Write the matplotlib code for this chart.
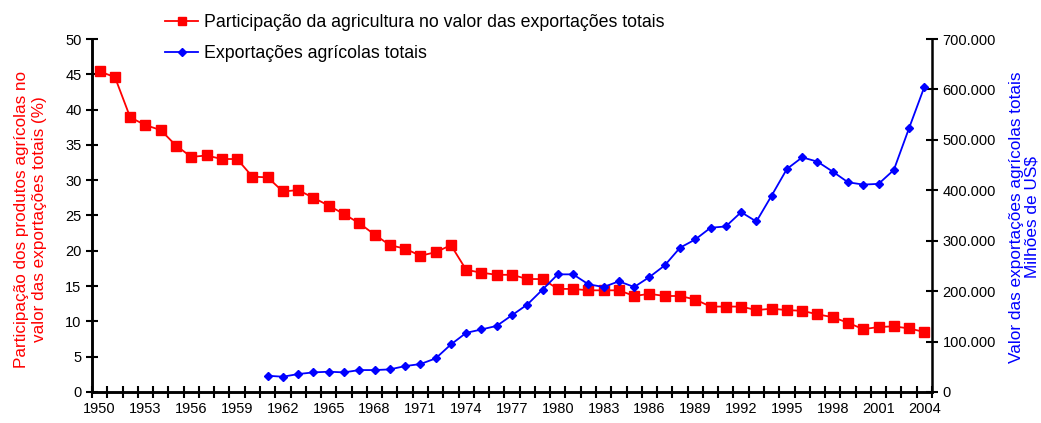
import numpy as np
import matplotlib
matplotlib.use('Agg')
import matplotlib.pyplot as plt
from matplotlib.ticker import FuncFormatter

plt.rcParams['font.family'] = ['Liberation Sans', 'DejaVu Sans']

##### data ##############################
years = list(range(1950, 2005))
share = [45.4, 44.6, 38.9, 37.8, 37.1, 34.9, 33.3, 33.5, 33.0, 33.0,
         30.5, 30.4, 28.4, 28.6, 27.5, 26.4, 25.2, 23.9, 22.3, 20.8,
         20.3, 19.3, 19.8, 20.8, 17.3, 16.9, 16.6, 16.6, 16.0, 16.0,
         14.6, 14.6, 14.4, 14.4, 14.4, 13.6, 13.9, 13.6, 13.6, 13.1,
         12.1, 12.1, 12.1, 11.6, 11.8, 11.6, 11.5, 11.0, 10.6, 9.8,
         8.9, 9.2, 9.3, 9.0, 8.5]
exp_years = list(range(1961, 2005))
exports = [32200, 30300, 35600, 38900, 40200, 38900, 43500, 43500, 44800, 51400,
           55400, 66600, 94300, 117300, 124000, 131100, 152300, 173400, 203100, 233300,
           233300, 213600, 208200, 219500, 208200, 228000, 251100, 286100, 302500, 325700,
           328300, 356600, 338100, 389500, 442300, 465300, 456800, 437000, 415900, 411300,
           412700, 440300, 523400, 605100]
label_years = list(range(1950, 2005, 3))

lbl_share = 'Participação da agricultura no valor das exportações totais'
lbl_exp = 'Exportações agrícolas totais'

def thousands(v, pos):
    if v == 0:
        return '0'
    return '{:,.0f}'.format(v).replace(',', '.')

fig = plt.figure(figsize=(10.41, 4.23), dpi=100)
ax = fig.add_axes([0.0884, 0.0733, 0.8069, 0.8345])
ax2 = ax.twinx()

l1, = ax.plot(years, share, color='#ff0000', lw=1.3, marker='s', ms=6.5,
              label=lbl_share)
l2, = ax2.plot(exp_years, exports, color='#0000ff', lw=1.3, marker='D', ms=4.5,
               label=lbl_exp)

ax.set_xlim(1949.5, 2004.5)
ax.set_ylim(0, 50)
ax2.set_ylim(0, 700000)
ax.set_yticks(np.arange(0, 51, 5))
ax2.set_yticks(np.arange(0, 700001, 100000))
ax2.yaxis.set_major_formatter(FuncFormatter(thousands))

# category boundaries as ticks, labels centred on categories
ax.set_xticks(np.arange(1949.5, 2005, 1))
ax.set_xticklabels([])
ax.set_xticks(label_years, minor=True)
ax.set_xticklabels([str(y) for y in label_years], minor=True)
ax.tick_params(axis='x', which='minor', length=0, pad=7, labelsize=10.5)
ax.tick_params(axis='x', which='major', direction='inout', length=8, width=1.5)
ax.tick_params(axis='y', direction='inout', length=8, width=1.5, labelsize=10.5)
ax2.tick_params(axis='y', direction='inout', length=8, width=1.5, labelsize=10.5)

for a in (ax, ax2):
    a.spines['top'].set_visible(False)
    for s in ('left', 'right', 'bottom'):
        a.spines[s].set_linewidth(1.8)
ax.spines['right'].set_visible(False)

fig.text(31 / 1041, 1 - 219 / 423,
         'Participação dos produtos agrícolas no\nvalor das exportações totais (%)',
         color='#ff0000', fontsize=12.3, rotation=90, ha='center', va='center',
         multialignment='center', linespacing=1.25)
fig.text(1024 / 1041, 1 - 217 / 423,
         'Valor das exportações agrícolas totais\nMilhões de US$',
         color='#0000ff', fontsize=12.4, rotation=90, ha='center', va='center',
         multialignment='center', linespacing=1.0)

fig.legend(handles=[l1, l2], loc='upper left', bbox_to_anchor=(0.1435, 1.005),
           frameon=False, fontsize=12.8, handlelength=1.85, handletextpad=0.3,
           labelspacing=0.8, markerscale=0.8)

plt.savefig('out.png', dpi=100)
